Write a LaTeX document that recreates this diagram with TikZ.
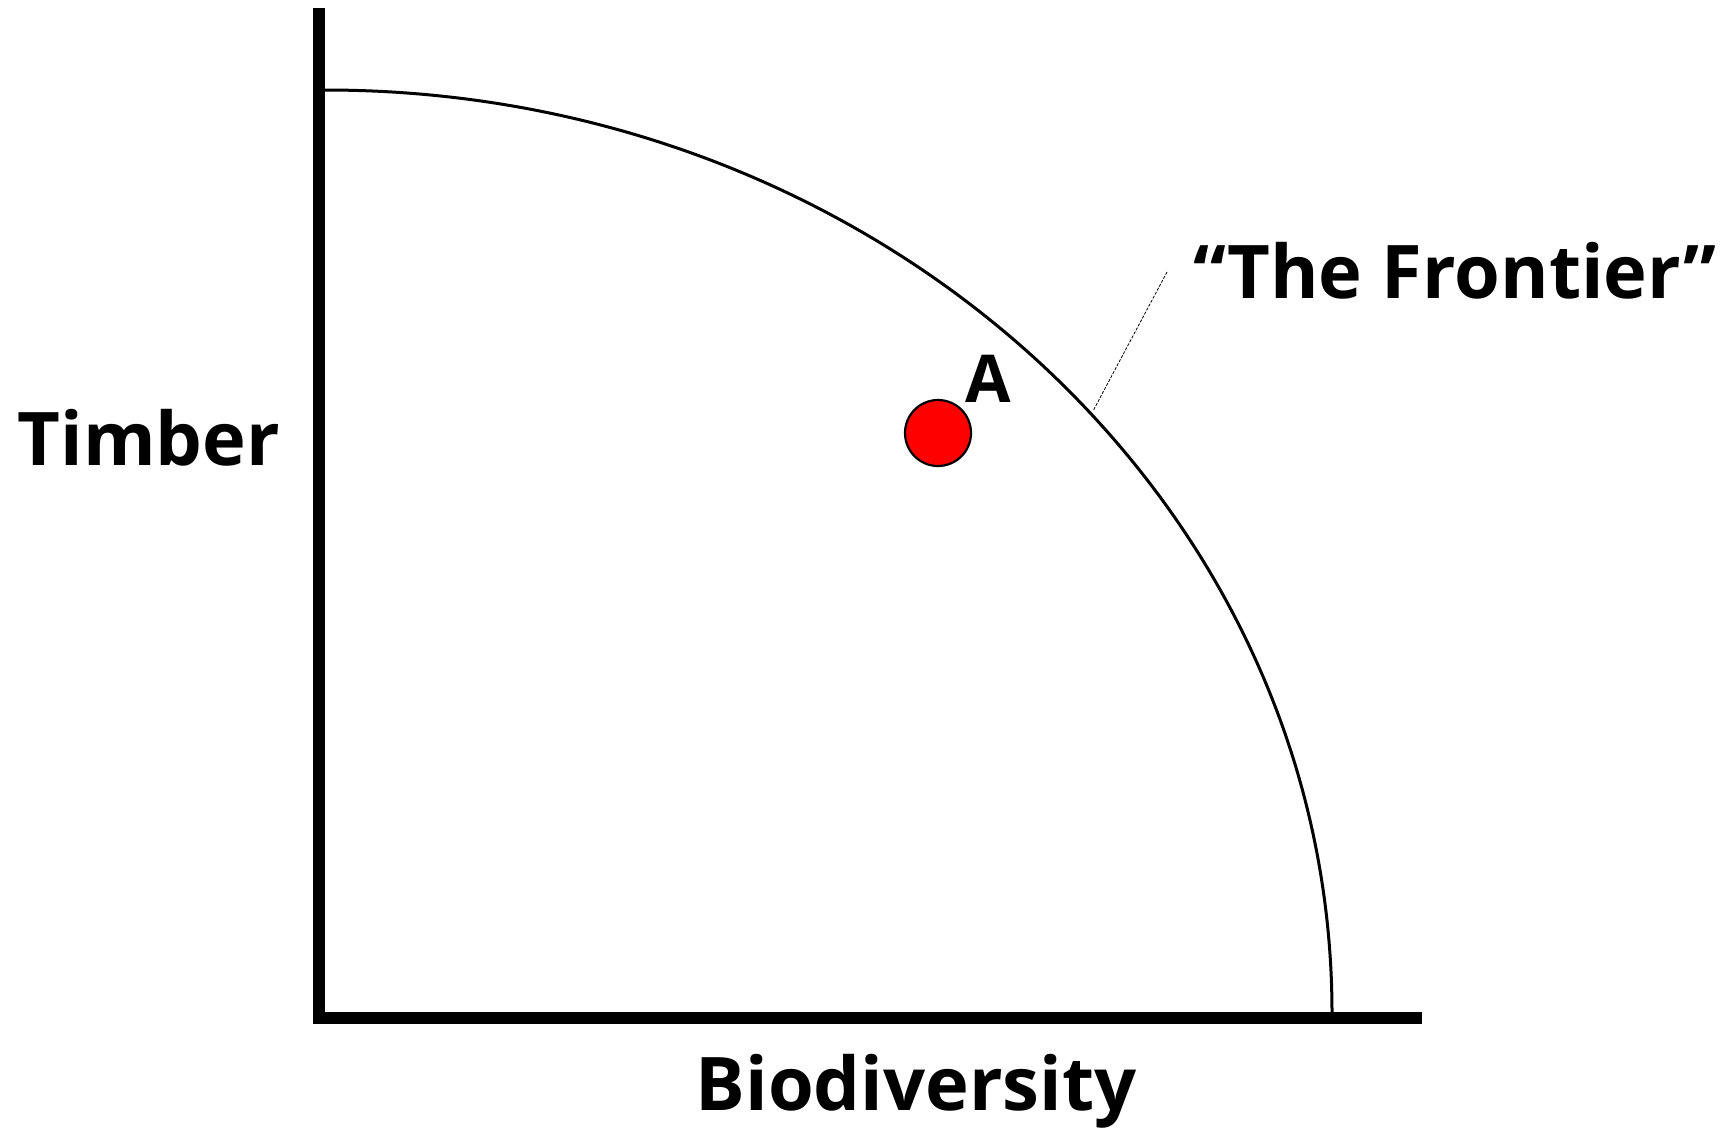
\documentclass[tikz,border=0pt]{standalone}
\usepackage{fontspec}
\setmainfont{Open Sans}
\usetikzlibrary{positioning}

\begin{document}
\begin{tikzpicture}[
    x=1pt, y=1pt,
    every node/.style={font=\fontsize{74}{84}\selectfont\bfseries, inner sep=0pt},
    axis/.style={line width=12pt, line join=miter},
    frontier/.style={line width=3pt},
    leader/.style={line width=0.8pt, dashed, dash pattern=on 3pt off 1.5pt}
]

\useasboundingbox (0,0) rectangle (1726,-1132);

\def\Rx{1007}
\def\Ry{923}

% Axes
\draw[axis] (319,-8) -- (319,-1018) -- (1422,-1018);

% Frontier
\draw[frontier] (325,-90)
      arc[start angle=90, end angle=0, x radius=\Rx, y radius=\Ry];

% Point A
\node[circle, draw, fill=red, line width=2.2pt, minimum size=66pt] (ptA) at (938,-433) {};
\node[font=\fontsize{66}{76}\selectfont\bfseries, anchor=base] (lblA) at (988,-402) {A};

% Labels
\node[anchor=base] (timber) at (149,-465) {Timber};
\node[anchor=base] (biodiv) at (916,-1110) {Biodiversity};
\node[anchor=base] (front) at (1455,-298) {“The Frontier”};

\coordinate (tail) at (1167,-272);
\coordinate (tip) at (1093,-411);
\draw[leader] (tail) -- (tip);

\end{tikzpicture}
\end{document}
